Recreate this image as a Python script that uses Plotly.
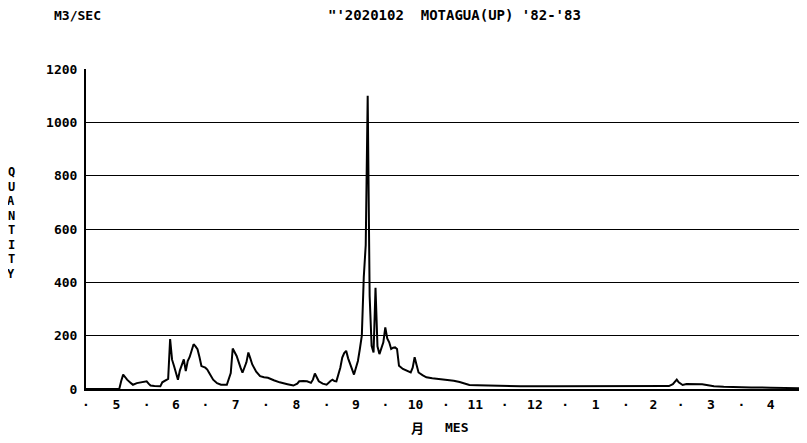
import plotly.graph_objects as go

# Day number counted from 1 May 1982 (0) to 30 April 1983 (365)
days = [0, 17, 18, 19, 20, 21, 23, 24, 26, 28, 30, 31, 32, 33, 35, 38, 39, 41, 42,
        43, 44, 45, 46, 47, 48, 50, 51, 52, 53, 55, 56, 57, 58, 59, 61, 62, 63, 65,
        67, 69, 72, 74, 75, 76, 77, 79, 80, 82, 83, 84, 85, 87, 89, 91, 93, 96, 99,
        103, 106, 108, 109, 111, 113, 115, 116, 117, 118, 119, 121, 123, 125, 126,
        127, 128, 130, 131, 132, 133, 134, 135, 136, 137, 138, 139, 140, 141, 142,
        143, 144, 145, 146, 147, 148, 149, 150, 151, 152, 153, 154, 155, 156, 157,
        158, 159, 160, 162, 164, 166, 167, 168, 169, 170, 172, 174, 177, 181, 185,
        188, 191, 194, 196, 200, 205, 215, 222, 240, 256, 273, 290, 298, 300, 302,
        303, 305, 307, 311, 315, 318, 321, 326, 333, 340, 350, 357, 365]
flow = [0, 0, 30, 54, 45, 35, 22, 16, 22, 25, 28, 29, 20, 13, 11, 10, 25, 32, 38,
        187, 110, 86, 60, 35, 70, 111, 67, 105, 120, 168, 160, 149, 120, 86, 80, 73,
        60, 35, 22, 16, 16, 60, 152, 140, 124, 80, 61, 100, 137, 115, 92, 65, 48,
        44, 42, 33, 25, 18, 13, 20, 29, 30, 29, 23, 35, 58, 45, 29, 20, 16, 30, 35,
        30, 29, 80, 118, 135, 143, 115, 92, 70, 54, 80, 105, 150, 200, 420, 540,
        1100, 350, 162, 137, 380, 160, 131, 150, 175, 231, 190, 175, 150, 155, 156,
        150, 87, 75, 69, 62, 80, 119, 90, 62, 52, 44, 40, 37, 33, 31, 26, 20, 15,
        14, 13, 11, 10, 10, 10, 10, 10, 11, 18, 35, 25, 15, 19, 19, 18, 14, 10, 8,
        6, 6, 5, 4, 3]

month_starts = [0, 31, 61, 92, 123, 153, 184, 214, 245, 276, 304, 335]
month_labels = ["5", "6", "7", "8", "9", "10", "11", "12", "1", "2", "3", "4"]
month_ends = month_starts[1:] + [365]
y_ticks = [0, 200, 400, 600, 800, 1000, 1200]

tickvals, ticktext = [], []
for s, e, lab in zip(month_starts, month_ends, month_labels):
    tickvals += [s, (s + e) / 2]
    ticktext += ["·", lab]

FONT = "DejaVu Sans Mono"

fig = go.Figure()
fig.add_trace(go.Scatter(x=days, y=flow, mode="lines",
                         line=dict(color="black", width=2),
                         hoverinfo="skip", showlegend=False))

# The page body has an 8px margin, so the figure is 8px smaller and
# its margins are reduced to keep the plot area where the reference has it.
fig.update_layout(
    width=799, height=435,
    margin=dict(l=78, r=7, t=61, b=54),
    paper_bgcolor="white", plot_bgcolor="white",
    font=dict(family=FONT, color="black", size=13),
    xaxis=dict(range=[0, 365], tickvals=tickvals, ticktext=ticktext,
               showgrid=False, zeroline=False, showline=True,
               linecolor="black", linewidth=1.5, ticks="", ticklabelstandoff=3,
               tickfont=dict(family=FONT, size=13, color="black", weight="bold")),
    yaxis=dict(range=[0, 1200], tickvals=y_ticks,
               ticktext=[str(v) for v in y_ticks],
               showgrid=True, gridcolor="black", gridwidth=1.3,
               zeroline=False, showline=True, linecolor="black", linewidth=2,
               ticks="", ticklabelstandoff=4,
               tickfont=dict(family=FONT, size=13, color="black", weight="bold")),
)

annos = [
    dict(text="M3/SEC", x=(52 - 86) / 714, y=(389 - 15) / 320, xanchor="left",
         font=dict(size=13)),
    dict(text="\"'2020102  MOTAGUA(UP) '82-'83", x=(326 - 86) / 714,
         y=(389 - 15) / 320, xanchor="left", font=dict(size=14)),
    dict(text="月", x=(417 - 86) / 714, y=(389 - 427) / 320, xanchor="center",
         font=dict(family="Noto Sans CJK JP", size=13, weight="bold")),
    dict(text="MES", x=(443 - 86) / 714, y=(389 - 427) / 320, xanchor="left",
         font=dict(size=13)),
]
for i, ch in enumerate("QUANTITY"):
    annos.append(dict(text=ch, x=(11 - 86) / 714, y=(389 - (172 + i * 14.5)) / 320,
                      xanchor="center", font=dict(size=12)))
for a in annos:
    a.update(xref="paper", yref="paper", showarrow=False, yanchor="middle")
    a["font"] = dict(dict(family=FONT, color="black", weight="bold"), **a["font"])
fig.update_layout(annotations=annos)

fig.write_html("out.html")
